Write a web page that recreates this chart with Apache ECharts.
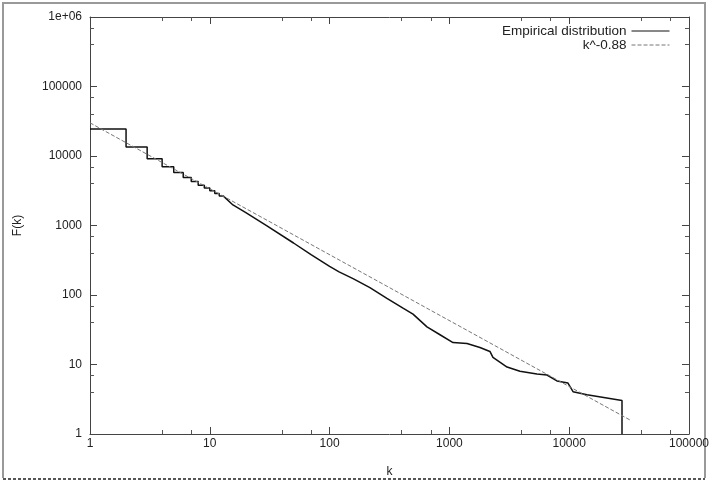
<!DOCTYPE html>
<html>
<head>
<meta charset="utf-8">
<script src="https://cdn.jsdelivr.net/npm/echarts@6/dist/echarts.min.js"></script>
<style>
  html, body { margin: 0; padding: 0; background: #fff; }
  #chart { width: 712px; height: 483px; }
</style>
</head>
<body>
<div id="chart"></div>
<script>
// empirical distribution (steps at small k)
var empK = [1, 2, 2, 3, 3, 4, 4, 5, 5, 6, 6, 7, 7, 8, 8, 9, 9, 10, 10, 11, 11, 12, 12, 13,
  15.6, 20, 30, 50, 70, 100, 120, 157, 217, 301, 410, 497, 650, 835, 1072, 1403,
  1800, 2180, 2310, 3030, 3880, 5380, 6530, 7900, 9770, 10770, 14080, 27600, 27600];
var empF = [24500, 24500, 13500, 13500, 9130, 9130, 7030, 7030, 5800, 5800, 4900, 4900,
  4300, 4300, 3800, 3800, 3450, 3450, 3150, 3150, 2880, 2880, 2650, 2650,
  1975, 1530, 990, 560, 380, 258, 215, 172, 128, 89.5, 64.6, 53, 34.8, 26.8, 20.7, 20.0,
  17.6, 15.4, 12.7, 9.2, 8.0, 7.3, 7.06, 5.8, 5.4, 4.06, 3.68, 3.03, 1];

// fitted power law, end points
var fitK = [1, 32000];
var fitF = [30000, 1.6];

var xTicks = [1, 10, 100, 1000, 10000, 100000];
var xTickLabels = ['1', '10', '100', '1000', '10000', '100000'];
var yTicks = [1, 10, 100, 1000, 10000, 100000, 1000000];
var yTickLabels = ['1', '10', '100', '1000', '10000', '100000', '1e+06'];

function pairs(a, b) {
  var out = [];
  for (var i = 0; i < a.length; i++) out.push([a[i], b[i]]);
  return out;
}
function lookup(ticks, labels, v) {
  for (var i = 0; i < ticks.length; i++) {
    if (Math.abs(Math.log10(v) - Math.log10(ticks[i])) < 1e-6) return labels[i];
  }
  return '';
}

var chart = echarts.init(document.getElementById('chart'));

var axisLine = { show: true, lineStyle: { color: '#444', width: 1 } };
var tickBase = { show: true, inside: true, length: 7, lineStyle: { color: '#444' } };
var minor = { show: true, splitNumber: 3, length: 4, lineStyle: { color: '#555' } };
var font = 'Liberation Sans, Arial, sans-serif';

var option = {
  animation: false,
  backgroundColor: '#fff',
  grid: { left: 90, right: 23, top: 17, bottom: 41 },
  legend: {
    orient: 'vertical',
    right: 37,
    top: 19,
    align: 'right',
    itemWidth: 38,
    itemHeight: 10,
    itemGap: 0,
    itemStyle: { opacity: 0 },
    lineStyle: { width: 1 },
    textStyle: { fontFamily: font, fontSize: 13.5, lineHeight: 12, color: '#222' },
    data: ['Empirical distribution', 'k^-0.88']
  },
  xAxis: [{
    type: 'log', min: 1, max: 100000, logBase: 10,
    name: 'k', nameLocation: 'middle', nameGap: 32,
    nameTextStyle: { fontFamily: font, fontSize: 12, color: '#222' },
    axisLine: axisLine, axisTick: tickBase, minorTick: minor,
    splitLine: { show: false },
    axisLabel: {
      margin: 4, fontFamily: font, fontSize: 12, color: '#222',
      formatter: function (v) { return lookup(xTicks, xTickLabels, v); }
    }
  }, {
    type: 'log', min: 1, max: 100000, logBase: 10, position: 'top',
    axisLine: axisLine, axisTick: tickBase, minorTick: minor,
    splitLine: { show: false }, axisLabel: { show: false }
  }],
  yAxis: [{
    type: 'log', min: 1, max: 1000000, logBase: 10,
    name: 'F(k)', nameLocation: 'middle', nameGap: 66, nameRotate: 90,
    nameTextStyle: { fontFamily: font, fontSize: 12, color: '#222' },
    axisLine: axisLine, axisTick: tickBase, minorTick: minor,
    splitLine: { show: false },
    axisLabel: {
      margin: 8, fontFamily: font, fontSize: 12, color: '#222',
      formatter: function (v) { return lookup(yTicks, yTickLabels, v); }
    }
  }, {
    type: 'log', min: 1, max: 1000000, logBase: 10, position: 'right',
    axisLine: axisLine, axisTick: tickBase, minorTick: minor,
    splitLine: { show: false }, axisLabel: { show: false }
  }],
  graphic: [
    { type: 'polyline', silent: true,
      shape: { points: [[3, 478], [3, 3], [705, 3], [705, 478]] },
      style: { stroke: '#999', lineWidth: 2, fill: null } },
    { type: 'line', silent: true,
      shape: { x1: 3, y1: 479, x2: 705, y2: 479 },
      style: { stroke: '#555', lineWidth: 2, lineDash: [3, 2] } }
  ],
  series: [{
    name: 'Empirical distribution',
    type: 'line',
    symbol: 'none',
    data: pairs(empK, empF),
    lineStyle: { color: '#111', width: 1.5 },
    itemStyle: { color: '#111' }
  }, {
    name: 'k^-0.88',
    type: 'line',
    symbol: 'none',
    data: pairs(fitK, fitF),
    lineStyle: { color: '#777', width: 1, type: [4, 2] },
    itemStyle: { color: '#777' }
  }]
};

chart.setOption(option);
window.onresize = chart.resize;
</script>
</body>
</html>
